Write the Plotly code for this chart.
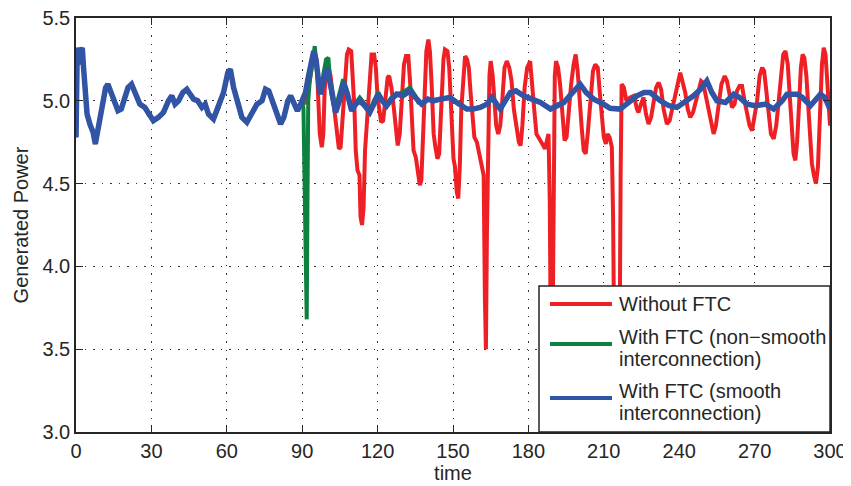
import plotly.graph_objects as go

# ---- shared trajectory before the fault (all three curves coincide) ----
t_base = [0, 0.2, 0.5, 1.0, 1.5, 2.0, 2.5, 3.0, 3.5, 4.4, 5.5, 6.8, 7.7, 8.8, 9.4, 10.8, 11.8, 12.7,
          14.0, 15.4, 16.7, 18.0, 19.4, 20.7, 22.1, 23.4, 25.4, 27.4, 28.8, 30.8, 32.8, 34.8, 36.8,
          38.1, 39.4, 40.8, 42.5, 44.1, 45.4, 46.8, 48.4, 50.1, 51.4, 52.7, 54.7, 56.7, 58.7, 60.4,
          61.4, 62.7, 64.7, 66.0, 68.0, 70.0, 72.0, 74.0, 75.4, 76.7, 78.1, 80.1, 81.4, 82.7, 84.3,
          85.4, 86.7, 88.1, 89.4, 90.0]
p_base = [4.78, 5.32, 5.32, 5.22, 5.32, 5.30, 5.32, 5.20, 5.11, 4.92, 4.86, 4.81, 4.74, 4.84, 4.88,
          5.00, 5.08, 5.10, 5.05, 4.98, 4.94, 4.95, 5.02, 5.08, 5.10, 5.05, 4.98, 4.96, 4.92, 4.88,
          4.90, 4.93, 5.00, 5.03, 4.98, 5.00, 5.05, 5.07, 5.04, 5.01, 5.00, 4.96, 4.98, 4.92, 4.89,
          4.96, 5.05, 5.17, 5.19, 5.08, 4.98, 4.90, 4.87, 4.92, 4.98, 5.00, 5.07, 5.06, 5.00, 4.92,
          4.86, 4.90, 5.00, 5.03, 4.98, 4.94, 4.98, 5.00]

# ---- Without FTC (after fault) ----
t_red = [91, 92, 93, 94, 95, 95.8, 96.4, 97, 97.8, 98.4, 98.9, 99.5, 100.5, 101.3, 102, 103, 104,
         104.6, 105.3, 106, 107, 107.8, 108.5, 109.5, 110.2, 110.8, 111.3, 112, 112.8, 113.2, 113.8,
         114.4, 115, 115.6, 116.3, 117, 117.6, 118.6, 119.3, 120, 120.7, 121.4, 122.2, 123, 124,
         124.6, 125.5, 126.5, 127.3, 128, 128.8, 129.6, 130.5, 131.3, 132.2, 132.9, 133.6, 134.3,
         135.2, 136, 136.8, 137.4, 138, 138.7, 139.4, 140.2, 140.8, 141.5, 142.3, 143, 143.8,
         144.5, 145.3, 146.2, 146.8, 147.8, 148.5, 149.3, 150.2, 150.8, 151.5, 152.1, 152.7, 153.3,
         154.2, 154.8, 155.6, 156.3, 157, 157.7, 158.5, 159.5, 160.5, 161.5, 162.2, 162.7, 163.1,
         163.5, 163.9, 164.5, 165, 165.8, 166.5, 167.2, 168, 168.8, 169.6, 170.5, 171.4, 172.4,
         173.3, 174.2, 175.2, 176.2, 176.9, 177.6, 178.5, 179.5, 180.7, 181.5, 182.3, 183.2, 184.5,
         185.5, 186.6, 187.4, 188, 188.5, 188.9, 189.6, 190.1, 190.5, 191, 191.8, 192.6, 193.5,
         194.4, 195.2, 196, 197, 198, 198.8, 199.6, 200.3, 201.2, 202, 202.8, 203.6, 204.6, 205.7,
         206.6, 207.6, 208.4, 209.2, 210, 210.8, 211.5, 212.3, 213.2, 213.7, 214.1, 215, 216.3,
         216.7, 217.1, 218, 219, 220.5, 222, 223.2, 223.8, 224.8, 225.8, 226.8, 227.8, 228.8,
         229.8, 230.8, 231.8, 232.8, 233.8, 235.1, 236.2, 237.1, 238.2, 239.1, 240.4, 241.3, 242.4,
         243.4, 244.4, 245.5, 246.4, 247.5, 248.7, 249.5, 250.3, 251.2, 252.4, 253.7, 254.6, 255.7,
         256.8, 258.1, 259, 259.9, 261, 262, 263, 264, 265, 266, 267, 268, 269, 270, 271, 272, 273,
         273.8, 274.6, 275.6, 276.5, 277.6, 278.6, 279.6, 280.6, 281.4, 282.3, 283.2, 283.9, 284.7,
         285.5, 286.2, 286.9, 287.7, 288.4, 289.1, 289.8, 290.6, 291.3, 292, 292.8, 293.6, 294.4,
         295.2, 296, 296.8, 297.5, 298.2, 298.9, 299.5, 300]
p_red = [4.98, 5.05, 5.12, 5.22, 5.30, 5.22, 5.00, 4.80, 4.72, 4.80, 5.05, 5.20, 5.20, 5.15, 5.05,
         4.90, 4.78, 4.71, 4.72, 4.85, 5.10, 5.28, 5.31, 5.30, 5.15, 4.95, 4.70, 4.58, 4.55, 4.30,
         4.25, 4.35, 4.70, 4.85, 4.97, 5.20, 5.28, 5.28, 5.20, 5.02, 4.95, 4.87, 4.88, 5.00, 5.14,
         5.15, 5.08, 4.95, 4.80, 4.73, 4.80, 5.00, 5.22, 5.27, 5.27, 5.12, 4.92, 4.70, 4.66, 4.55,
         4.49, 4.52, 4.75, 5.05, 5.30, 5.37, 5.30, 5.10, 4.80, 4.72, 4.65, 4.68, 4.95, 5.25, 5.31,
         5.30, 5.20, 4.95, 4.65, 4.60, 4.45, 4.41, 4.60, 4.95, 5.20, 5.27, 5.25, 5.20, 5.05, 4.95,
         4.78, 4.75, 4.68, 4.62, 4.55, 3.80, 3.50, 4.20, 4.80, 5.15, 5.24, 5.15, 5.00, 4.85, 4.80,
         4.85, 5.00, 5.20, 5.24, 5.20, 5.12, 4.95, 4.85, 4.75, 4.73, 4.85, 5.08, 5.20, 5.24, 5.12,
         4.95, 4.80, 4.77, 4.74, 4.71, 4.75, 4.80, 4.40, 3.55, 3.55, 4.60, 5.15, 5.24, 5.20, 5.10,
         4.90, 4.76, 4.78, 4.95, 5.10, 5.22, 5.28, 5.18, 5.00, 4.84, 4.70, 4.68, 4.80, 5.00, 5.18,
         5.22, 5.20, 5.05, 4.90, 4.78, 4.74, 4.80, 4.78, 4.72, 4.30, 3.60, 3.55, 3.55, 4.55, 5.10,
         5.08, 5.00, 5.02, 5.03, 4.95, 4.93, 4.98, 5.02, 4.92, 4.86, 4.90, 5.00, 5.08, 5.11, 5.07,
         4.95, 4.86, 4.88, 4.95, 5.02, 5.08, 5.17, 5.12, 5.05, 4.95, 4.90, 4.93, 4.98, 5.05, 5.12,
         5.11, 5.05, 4.98, 4.90, 4.80, 4.85, 5.00, 5.10, 5.15, 5.12, 5.05, 4.96, 4.98, 5.06, 5.09,
         5.09, 5.00, 4.92, 4.85, 4.82, 4.90, 5.00, 5.15, 5.20, 5.18, 5.08, 4.93, 4.80, 4.77, 4.85,
         5.00, 5.18, 5.28, 5.30, 5.22, 5.05, 4.85, 4.68, 4.64, 4.75, 4.98, 5.20, 5.28, 5.26, 5.15,
         4.95, 4.75, 4.62, 4.55, 4.50, 4.60, 4.90, 5.22, 5.32, 5.28, 5.12, 4.95, 4.85]

# ---- With FTC, non-smooth interconnection (fault transient) ----
t_green = [90.5, 90.9, 91.2, 91.5, 91.8, 92.1, 92.4, 93, 94, 95, 96, 97, 98.3, 99.5, 100.4, 101.5,
           103, 104.5, 106.3, 108, 109.6, 111, 112.9, 115, 116.9, 118.5, 120.3, 122, 123.6, 125.5,
           127.6, 130, 132.9, 135, 136.2]
p_green = [4.95, 4.43, 4.40, 3.70, 3.68, 4.40, 5.00, 5.12, 5.25, 5.33, 5.15, 5.06, 5.15, 5.25, 5.26,
           5.05, 4.94, 5.02, 5.13, 5.05, 4.94, 4.98, 5.02, 4.98, 4.94, 5.00, 5.05, 5.00, 4.98, 5.02,
           5.04, 5.05, 5.08, 5.03, 4.99]

# ---- With FTC, smooth interconnection (after fault) ----
t_blue = [90.4, 91.3, 92.4, 93.5, 94.6, 95.5, 97.1, 98.5, 99.8, 101.5, 103.3, 104.8, 106.5, 108,
          109.7, 111.3, 112.9, 114.9, 116.9, 118.5, 120.2, 121.9, 123.6, 125.6, 127.6, 130, 132.9,
          135, 137.5, 140, 142.2, 145, 148.8, 151.5, 155.5, 158, 160.8, 163.5, 165.5, 168.8, 171,
          172.8, 175, 178.1, 181.4, 184.8, 188.8, 192, 194.1, 197, 200.6, 203, 206, 209.9, 212.5,
          216.5, 219, 223.2, 226, 228.5, 232.5, 236, 239.1, 242, 245.7, 248.5, 251, 253, 255,
          258.4, 261.7, 264, 267, 270.3, 274.3, 277.6, 281, 282.9, 286.9, 289, 292.2, 296.2, 298,
          300]
p_blue = [5.02, 5.05, 5.14, 5.22, 5.30, 5.25, 5.04, 5.12, 5.20, 5.08, 4.93, 5.00, 5.11, 5.04, 4.94,
          4.98, 5.00, 4.97, 4.93, 4.98, 5.04, 5.00, 4.97, 5.01, 5.04, 5.03, 5.06, 5.02, 4.98, 5.01,
          5.00, 5.01, 5.02, 4.99, 4.95, 4.95, 4.96, 4.98, 5.02, 4.95, 5.00, 5.05, 5.06, 5.03, 5.01,
          4.99, 4.95, 4.98, 4.99, 5.04, 5.10, 5.05, 5.01, 4.98, 4.955, 4.95, 4.98, 5.03, 5.05, 5.05,
          5.00, 4.97, 4.96, 4.99, 5.03, 5.07, 5.12, 5.05, 5.00, 4.99, 5.04, 5.02, 4.98, 4.97, 4.98,
          4.95, 5.00, 5.04, 5.04, 5.02, 4.97, 5.04, 5.02, 4.95]

x_ticks = [0, 30, 60, 90, 120, 150, 180, 210, 240, 270, 300]
y_ticks = [3.0, 3.5, 4.0, 4.5, 5.0, 5.5]

names = ["Without FTC", "With FTC (non\u2212smooth interconnection)",
         "With FTC (smooth interconnection)"]
colors = ["#EE2026", "#0E8040", "#3254A5"]

# green after the transient coincides with the smooth-interconnection curve
green_tail_t = [t for t in t_blue if t > 137]
green_tail_p = [p for t, p in zip(t_blue, p_blue) if t > 137]

series = [
    (t_base + t_red, p_base + p_red),
    (t_base + t_green + green_tail_t, p_base + p_green + green_tail_p),
    (t_base + t_blue, p_base + p_blue),
]

# page (screenshot) geometry; the html body adds an 8px offset
OFF = 8
PAGE_W, PAGE_H = 851, 486
PL, PR, PT, PB = 76, 830, 18, 432           # plot area in page pixels
W, H = PAGE_W - OFF, PAGE_H - OFF
ML, MT = PL - OFF, PT - OFF
MR, MB = W - (PR - OFF), H - (PB - OFF)
PW, PH = PR - PL, PB - PT
FS = 20
FONT = "Liberation Sans, Arial, Helvetica, sans-serif"
INK = "#262626"

fig = go.Figure()
for (xs, ys), name, col, w in zip(series, names, colors, [4, 4, 5.5]):
    fig.add_trace(go.Scatter(x=xs, y=ys, mode="lines", name=name, showlegend=False,
                             line=dict(color=col, width=w)))

axis_common = dict(showline=True, linecolor=INK, linewidth=1.5, mirror="ticks",
                   ticks="inside", ticklen=7, tickcolor=INK, tickwidth=1, automargin=False,
                   ticklabeloverflow="allow",
                   showgrid=True, gridcolor="#333333", gridwidth=1.2, griddash="1.5px,7px",
                   zeroline=False, tickfont=dict(family=FONT, size=FS, color=INK))

fig.update_xaxes(range=[0, 300], tickvals=x_ticks, title=dict(text="time", standoff=2,
                 font=dict(family=FONT, size=FS, color=INK)), **axis_common)
fig.update_yaxes(range=[3.0, 5.5], tickvals=y_ticks, tickformat=".1f",
                 title=dict(text="Generated Power", standoff=8,
                            font=dict(family=FONT, size=FS, color=INK)), **axis_common)

# ---- legend drawn from page-pixel layout, converted to paper coordinates ----
def px_x(p):
    return (p - PL) / PW

def px_y(p):
    return 1 - (p - PT) / PH

box = (539, 286, 830, 432)
shapes = [dict(type="rect", xref="paper", yref="paper",
               x0=px_x(box[0]), x1=px_x(box[2]), y0=px_y(box[3]), y1=px_y(box[1]),
               line=dict(color=INK, width=1.5), fillcolor="white", layer="above")]
annotations = []
sample_y = [304, 344, 398]
text_rows = [[(304, "Without FTC")],
             [(337, "With FTC (non\u2212smooth"), (359, "interconnection)")],
             [(391, "With FTC (smooth"), (413, "interconnection)")]]
for col, sy, rows in zip(colors, sample_y, text_rows):
    shapes.append(dict(type="line", xref="paper", yref="paper", layer="above",
                       x0=px_x(550), x1=px_x(612), y0=px_y(sy), y1=px_y(sy),
                       line=dict(color=col, width=4)))
    for ty, txt in rows:
        annotations.append(dict(xref="paper", yref="paper", x=px_x(617), y=px_y(ty),
                                xanchor="left", yanchor="middle", text=txt, showarrow=False,
                                font=dict(family=FONT, size=FS, color=INK)))

fig.update_layout(
    width=W, height=H,
    margin=dict(l=ML, r=MR, t=MT, b=MB),
    plot_bgcolor="white", paper_bgcolor="white",
    font=dict(family=FONT, size=FS, color=INK),
    showlegend=False, shapes=shapes, annotations=annotations,
)

fig.write_html("out.html")
